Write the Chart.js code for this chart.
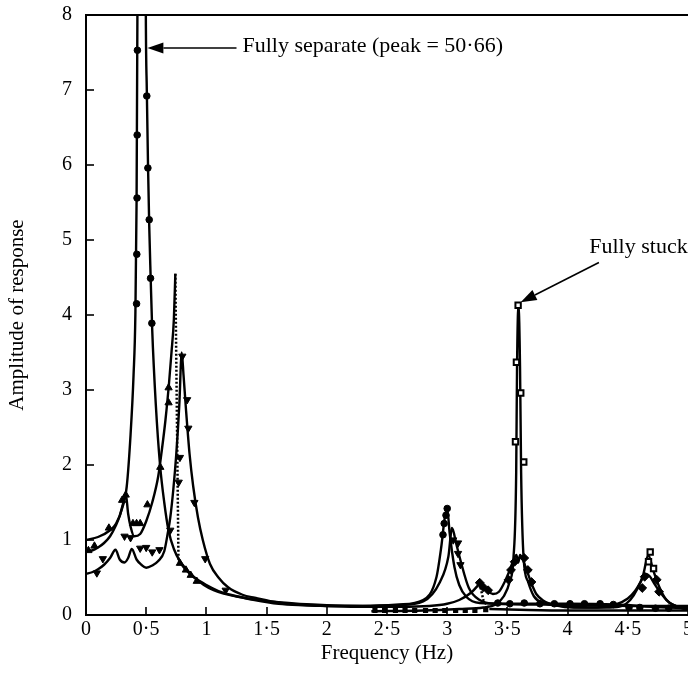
<!DOCTYPE html>
<html>
<head>
<meta charset="utf-8">
<script src="https://cdn.jsdelivr.net/npm/chart.js@4.4.1/dist/chart.umd.min.js"></script>
<style>
  html, body { margin: 0; padding: 0; background: #fff; overflow: hidden; }
  #wrap { width: 688px; height: 681px; position: relative; }
</style>
</head>
<body>
<div id="wrap"><canvas id="c"></canvas></div>
<script>
// ---------- Data ----------
// Axis ticks
const X_TICKS = [0, 0.5, 1, 1.5, 2, 2.5, 3, 3.5, 4, 4.5, 5];
const Y_TICKS = [0, 1, 2, 3, 4, 5, 6, 7, 8];

// Fully separate (filled circles) – line
const SEP_F = [0, 0.1, 0.2, 0.25, 0.3, 0.338, 0.37, 0.395, 0.41, 0.42, 0.427, 0.44, 0.4625, 0.485, 0.497, 0.505, 0.515, 0.525, 0.537, 0.55, 0.58, 0.615, 0.65, 0.685, 0.73, 0.78, 0.9, 1.06, 1.31, 1.6, 2.0, 2.3, 2.6, 2.8, 2.91, 2.95, 2.98, 3.0, 3.02, 3.06, 3.1, 3.16, 3.27, 3.5, 4.0, 4.4, 4.7, 5.0];
const SEP_A = [1.0, 1.04, 1.13, 1.22, 1.42, 1.71, 2.4, 3.2, 4.0, 5.5, 8.0, 14, 50.66, 14, 8.0, 7.0, 6.0, 5.2, 4.5, 3.8, 2.8, 2.0, 1.5, 1.13, 0.88, 0.72, 0.5, 0.33, 0.23, 0.17, 0.13, 0.12, 0.14, 0.2, 0.5, 0.9, 1.3, 1.42, 1.1, 0.64, 0.4, 0.24, 0.16, 0.15, 0.15, 0.14, 0.11, 0.09];
// Fully separate – markers
const SEP_MF = [0.427, 0.425, 0.424, 0.422, 0.42, 0.505, 0.514, 0.525, 0.536, 0.547, 3.0, 2.99, 2.975, 2.965, 3.42, 3.52, 3.64, 3.77, 3.89, 4.02, 4.14, 4.27, 4.38, 4.51, 4.6, 4.73, 4.84];
const SEP_MA = [7.53, 6.4, 5.56, 4.81, 4.15, 6.92, 5.96, 5.27, 4.49, 3.89, 1.42, 1.33, 1.22, 1.07, 0.16, 0.15, 0.16, 0.15, 0.15, 0.15, 0.15, 0.15, 0.14, 0.1, 0.1, 0.09, 0.09];

// Up-triangle series – line parts and jumps (dotted)
const UP_F1 = [0, 0.05, 0.1, 0.15, 0.2, 0.25, 0.28, 0.31, 0.33, 0.35, 0.37, 0.4, 0.45, 0.5, 0.55, 0.6, 0.63, 0.66, 0.69, 0.71, 0.73, 0.742];
const UP_A1 = [0.85, 0.86, 0.9, 0.96, 1.05, 1.2, 1.32, 1.5, 1.62, 1.35, 1.18, 1.05, 1.08, 1.25, 1.5, 1.85, 2.2, 2.6, 3.1, 3.5, 3.95, 4.55];
const UP_JUMP1_F = [0.742, 0.768];
const UP_JUMP1_A = [4.55, 0.73];
const UP_F2 = [0.768, 0.8, 0.83, 0.9, 1.0, 1.1, 1.2, 1.4, 1.6, 1.8, 2.0, 2.3, 2.6, 2.85, 3.0, 3.1, 3.2, 3.27];
const UP_A2 = [0.73, 0.66, 0.6, 0.5, 0.4, 0.32, 0.27, 0.2, 0.15, 0.13, 0.12, 0.11, 0.11, 0.12, 0.15, 0.2, 0.3, 0.42];
const UP_JUMP2_F = [3.27, 3.3, 3.35];
const UP_JUMP2_A = [0.42, 0.2, 0.08];
const UP_F3 = [3.35, 3.6, 4.0, 4.5, 5.0];
const UP_A3 = [0.08, 0.07, 0.06, 0.06, 0.06];
const UP_MF = [0.02, 0.07, 0.19, 0.3, 0.33, 0.39, 0.42, 0.45, 0.51, 0.617, 0.686, 0.686, 0.78, 0.83, 0.87, 0.92];
const UP_MA = [0.86, 0.92, 1.16, 1.53, 1.6, 1.22, 1.22, 1.22, 1.47, 1.97, 2.83, 3.03, 0.69, 0.6, 0.53, 0.45];

// Down-triangle series
const DN_F = [0, 0.05, 0.1, 0.15, 0.2, 0.245, 0.28, 0.32, 0.35, 0.38, 0.42, 0.46, 0.5, 0.55, 0.6, 0.65, 0.68, 0.7, 0.725, 0.75, 0.775, 0.795, 0.81, 0.83, 0.86, 0.89, 0.93, 0.97, 1.03, 1.1, 1.18, 1.3, 1.4, 1.62, 1.8, 2.0, 2.3, 2.6, 2.8, 2.94, 3.01, 3.04, 3.075, 3.11, 3.18, 3.27, 3.4, 3.8, 4.2, 4.6, 5.0];
const DN_A = [0.55, 0.57, 0.61, 0.67, 0.76, 0.87, 0.74, 0.7, 0.76, 0.88, 0.74, 0.67, 0.63, 0.66, 0.72, 0.85, 1.1, 1.3, 1.67, 2.15, 2.8, 3.5, 3.2, 2.75, 2.15, 1.72, 1.3, 1.0, 0.68, 0.5, 0.37, 0.27, 0.23, 0.16, 0.14, 0.12, 0.12, 0.13, 0.18, 0.44, 0.78, 1.16, 0.95, 0.73, 0.36, 0.2, 0.15, 0.14, 0.13, 0.12, 0.12];
const DN_MF = [0.09, 0.14, 0.32, 0.37, 0.45, 0.5, 0.55, 0.61, 0.7, 0.77, 0.78, 0.8, 0.84, 0.85, 0.9, 0.99, 1.16, 3.05, 3.09, 3.09, 3.11];
const DN_MA = [0.56, 0.75, 1.05, 1.03, 0.89, 0.9, 0.84, 0.87, 1.13, 1.77, 2.1, 3.45, 2.87, 2.49, 1.5, 0.75, 0.33, 1.0, 0.96, 0.82, 0.67];

// Fully stuck (open squares)
const STUCK_F = [2.37, 2.8, 3.1, 3.3, 3.4, 3.47, 3.52, 3.55, 3.573, 3.58, 3.592, 3.605, 3.614, 3.635, 3.67, 3.72, 3.8, 3.95, 4.15, 4.35, 4.45, 4.52, 4.58, 4.63, 4.67, 4.71, 4.76, 4.82, 4.9, 5.0];
const STUCK_A = [0.05, 0.06, 0.08, 0.1, 0.14, 0.25, 0.45, 0.75, 1.9, 3.3, 4.15, 3.3, 1.9, 0.75, 0.45, 0.25, 0.16, 0.12, 0.1, 0.1, 0.12, 0.2, 0.35, 0.55, 0.8, 0.6, 0.38, 0.2, 0.12, 0.09];
const STUCK_MF = [3.589, 3.575, 3.611, 3.567, 3.636, 4.686, 4.672, 4.714];
const STUCK_MA = [4.13, 3.37, 2.96, 2.31, 2.04, 0.84, 0.71, 0.62];
const STUCK_BASE_MF = [2.4, 2.48, 2.57, 2.65, 2.73, 2.82, 2.9, 2.98, 3.07, 3.15, 3.23, 3.32];
const STUCK_BASE_MA = [0.06, 0.06, 0.06, 0.06, 0.06, 0.06, 0.06, 0.06, 0.06, 0.06, 0.06, 0.07];

// Diamond series
const DIA_F = [3.27, 3.33, 3.38, 3.43, 3.48, 3.52, 3.555, 3.575, 3.59, 3.605, 3.625, 3.66, 3.7, 3.74, 3.8, 3.9, 4.05, 4.25, 4.4, 4.5, 4.56, 4.61, 4.645, 4.68, 4.72, 4.77, 4.85, 4.95, 5.0];
const DIA_A = [0.42, 0.33, 0.28, 0.31, 0.45, 0.6, 0.75, 0.8, 0.7, 0.8, 0.75, 0.6, 0.42, 0.28, 0.19, 0.13, 0.1, 0.1, 0.14, 0.22, 0.32, 0.45, 0.55, 0.52, 0.42, 0.3, 0.16, 0.09, 0.07];
const DIA_MF = [3.27, 3.3, 3.34, 3.51, 3.53, 3.56, 3.64, 3.67, 3.7, 4.62, 4.64, 4.74, 4.76];
const DIA_MA = [0.43, 0.37, 0.33, 0.47, 0.6, 0.71, 0.76, 0.6, 0.44, 0.36, 0.51, 0.47, 0.31];

// Annotations (data coordinates)
const NOTE_TEXTS = ['Fully separate (peak = 50·66)', 'Fully stuck'];
const NOTE_POS_F = [1.3, 4.18];
const NOTE_POS_A = [7.58, 4.9];
const ARROW_FROM_F = [1.25, 4.26];
const ARROW_FROM_A = [7.56, 4.7];
const ARROW_TO_F = [0.51, 3.61];
const ARROW_TO_A = [7.56, 4.17];

// ---------- Build ----------
const pts = (fs, as) => fs.map((f, i) => ({ x: f, y: as[i] }));
const FONT = '"Liberation Serif", "Times New Roman", serif';

function lineDS(fs, as, dotted) {
  return {
    type: 'line', data: pts(fs, as), borderColor: '#000', borderWidth: dotted ? 2.5 : 2.4,
    borderDash: dotted ? [2, 2] : [], pointRadius: 0, fill: false,
    cubicInterpolationMode: dotted ? 'default' : 'monotone', tension: 0, order: 2
  };
}
function markDS(fs, as, style, opts) {
  return Object.assign({
    type: 'scatter', data: pts(fs, as), showLine: false, pointStyle: style,
    pointRadius: 3.5, pointBackgroundColor: '#000', pointBorderColor: '#000',
    pointBorderWidth: 1, order: 1
  }, opts || {});
}

const datasets = [
  lineDS(SEP_F, SEP_A),
  lineDS(UP_F1, UP_A1), lineDS(UP_JUMP1_F, UP_JUMP1_A, true),
  lineDS(UP_F2, UP_A2), lineDS(UP_JUMP2_F, UP_JUMP2_A, true), lineDS(UP_F3, UP_A3),
  lineDS(DN_F, DN_A),
  lineDS(STUCK_F, STUCK_A),
  lineDS(DIA_F, DIA_A),
  markDS(SEP_MF, SEP_MA, 'circle', { pointRadius: 3.3 }),
  markDS(UP_MF, UP_MA, 'triangle', { pointRadius: 4.2 }),
  markDS(DN_MF, DN_MA, 'triangle', { pointRadius: 4.2, pointRotation: 180 }),
  markDS(STUCK_MF, STUCK_MA, 'rect', { pointRadius: 3.8, pointBackgroundColor: '#fff', pointBorderWidth: 2 }),
  markDS(STUCK_BASE_MF, STUCK_BASE_MA, 'rect', { pointRadius: 2.6, pointBorderWidth: 1.5 }),
  markDS(DIA_MF, DIA_MA, 'rectRot', { pointRadius: 4.4 })
];

const decorPlugin = {
  id: 'decor',
  afterDraw(chart) {
    const ctx = chart.ctx, ca = chart.chartArea;
    const xs = chart.scales.x, ys = chart.scales.y;
    ctx.save();
    ctx.strokeStyle = '#000';
    ctx.lineWidth = 2;
    // top frame line
    ctx.beginPath(); ctx.moveTo(ca.left - 1, ca.top); ctx.lineTo(ca.right + 2, ca.top); ctx.stroke();
    // inward ticks
    ctx.lineWidth = 1.6;
    X_TICKS.forEach(v => {
      const px = Math.round(xs.getPixelForValue(v));
      ctx.beginPath(); ctx.moveTo(px, ca.bottom); ctx.lineTo(px, ca.bottom - 8); ctx.stroke();
    });
    Y_TICKS.forEach(v => {
      const py = Math.round(ys.getPixelForValue(v));
      ctx.beginPath(); ctx.moveTo(ca.left, py); ctx.lineTo(ca.left + 8, py); ctx.stroke();
    });
    // annotations
    ctx.fillStyle = '#000';
    ctx.font = '22px ' + FONT;
    ctx.textBaseline = 'middle';
    ctx.textAlign = 'left';
    NOTE_TEXTS.forEach((t, i) => {
      ctx.fillText(t, xs.getPixelForValue(NOTE_POS_F[i]), ys.getPixelForValue(NOTE_POS_A[i]));
      const x1 = xs.getPixelForValue(ARROW_FROM_F[i]), y1 = ys.getPixelForValue(ARROW_FROM_A[i]);
      const x2 = xs.getPixelForValue(ARROW_TO_F[i]), y2 = ys.getPixelForValue(ARROW_TO_A[i]);
      const ang = Math.atan2(y2 - y1, x2 - x1);
      const hl = 16, hw = 5.5;
      const bx = x2 - hl * Math.cos(ang), by = y2 - hl * Math.sin(ang);
      ctx.lineWidth = 1.6;
      ctx.beginPath(); ctx.moveTo(x1, y1); ctx.lineTo(bx, by); ctx.stroke();
      ctx.beginPath();
      ctx.moveTo(x2, y2);
      ctx.lineTo(bx + hw * Math.sin(ang), by - hw * Math.cos(ang));
      ctx.lineTo(bx - hw * Math.sin(ang), by + hw * Math.cos(ang));
      ctx.closePath(); ctx.fill();
    });
    ctx.restore();
  }
};

const fmt = v => String(v).replace('.', '·');

new Chart(document.getElementById('c'), {
  data: { datasets },
  plugins: [decorPlugin],
  options: {
    responsive: true, maintainAspectRatio: false, animation: false,
    devicePixelRatio: 1,
    layout: { autoPadding: false, padding: { top: 15, right: 0, left: 0, bottom: 0 } },
    plugins: { legend: { display: false }, tooltip: { enabled: false } },
    scales: {
      x: {
        type: 'linear', min: 0, max: 5,
        afterBuildTicks: s => { s.ticks = X_TICKS.map(v => ({ value: v })); },
        ticks: { callback: fmt, color: '#000', font: { family: FONT, size: 20 }, padding: 3, maxRotation: 0, autoSkip: false },
        grid: { display: true, drawOnChartArea: false, drawTicks: false },
        border: { display: true, color: '#000', width: 2 },
        title: { display: true, text: 'Frequency (Hz)', color: '#000', font: { family: FONT, size: 21 }, padding: { top: 0, bottom: 15 } },
        afterFit: s => { s.height = 66; s.paddingLeft = 0; s.paddingRight = 0; }
      },
      y: {
        type: 'linear', min: 0, max: 8,
        afterBuildTicks: s => { s.ticks = Y_TICKS.map(v => ({ value: v })); },
        ticks: { callback: fmt, color: '#000', font: { family: FONT, size: 20 }, padding: 14 },
        grid: { display: true, drawOnChartArea: false, drawTicks: false },
        border: { display: true, color: '#000', width: 2 },
        title: { display: true, text: 'Amplitude of response', color: '#000', font: { family: FONT, size: 21 }, padding: { top: 5, bottom: 0 } },
        afterFit: s => { s.width = 86; s.paddingTop = 0; s.paddingBottom = 0; }
      }
    }
  }
});
</script>
</body>
</html>
